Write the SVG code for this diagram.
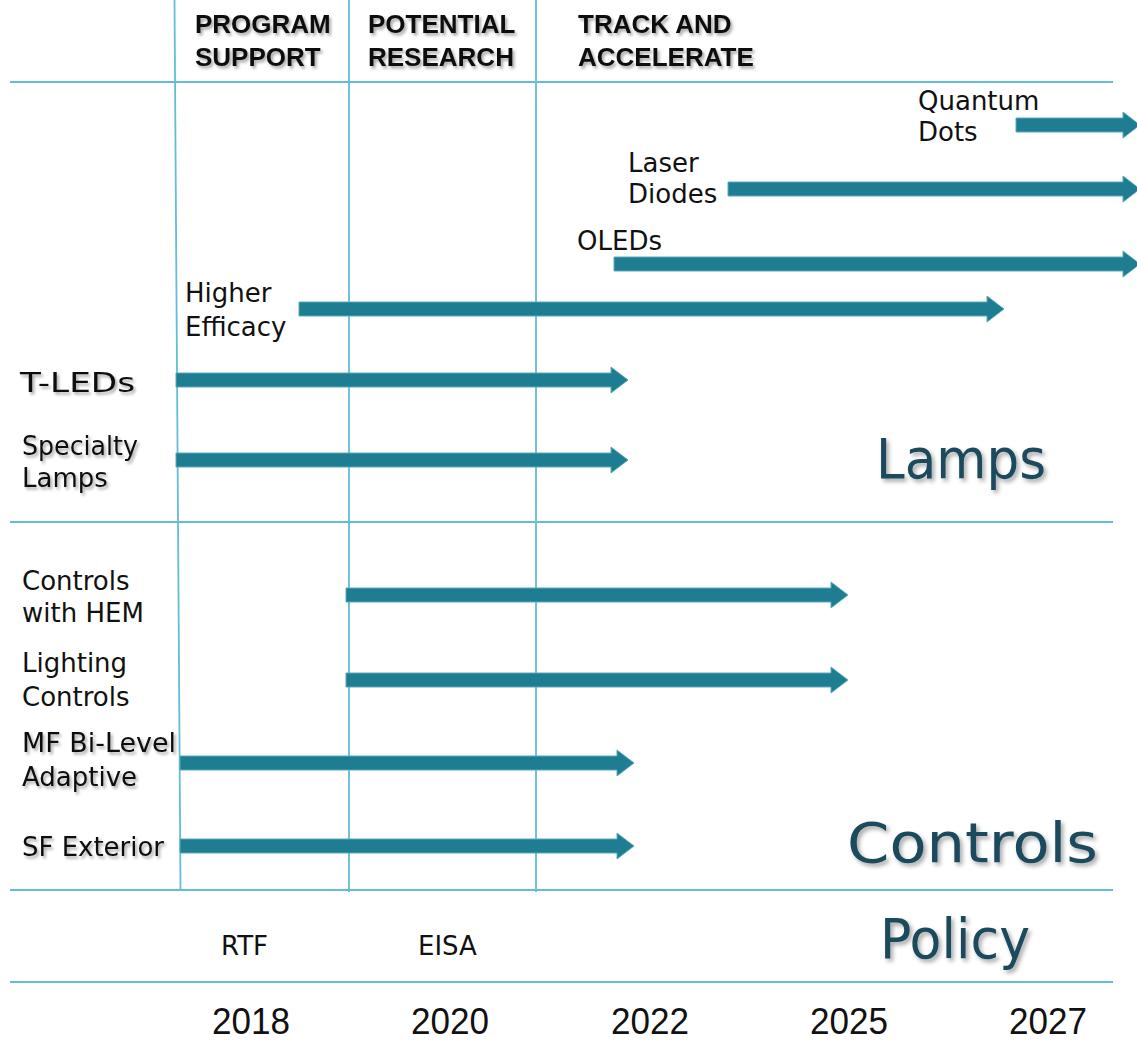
<svg xmlns="http://www.w3.org/2000/svg" width="1137" height="1041" viewBox="0 0 1137 1041">
  <defs>
    <filter id="shadow" x="-10%" y="-30%" width="130%" height="170%">
      <feDropShadow dx="2" dy="2.5" stdDeviation="1.4" flood-color="#000" flood-opacity="0.35"/>
    </filter>
    <filter id="bigshadow" x="-10%" y="-30%" width="130%" height="170%">
      <feDropShadow dx="2.5" dy="3" stdDeviation="2" flood-color="#000" flood-opacity="0.35"/>
    </filter>
  </defs>
  <style>
    .grid { stroke: #62bdd6; stroke-width: 1.8; fill: none; }
    .hdr { font-family: "Liberation Sans", Arial, sans-serif; font-weight: bold; font-size: 26px; fill: #111; }
    .lbl { font-family: "DejaVu Sans", "Noto Sans", sans-serif; font-size: 26px; fill: #111; }
    .big { font-family: "DejaVu Sans", "Noto Sans", sans-serif; font-size: 56px; fill: #1b4a5b; }
    .year { font-family: "Liberation Sans", Arial, sans-serif; font-size: 36px; fill: #111; }
    .arrow { fill: #1f7d92; stroke: #5aaabd; stroke-width: 1; }
  </style>

  <rect width="1137" height="1041" fill="#ffffff"/>

  <!-- grid lines -->
  <g id="grid">
    <line class="grid" x1="10" y1="82" x2="1113" y2="82"/>
    <line class="grid" x1="10" y1="522" x2="1113" y2="522"/>
    <line class="grid" x1="10" y1="890" x2="1113" y2="890"/>
    <line class="grid" x1="10" y1="982" x2="1113" y2="982"/>
    <line class="grid" x1="174.5" y1="0" x2="180.5" y2="890"/>
    <line class="grid" x1="349" y1="0" x2="349" y2="892"/>
    <line class="grid" x1="536" y1="0" x2="536" y2="892"/>
  </g>

  <!-- phase headers -->
  <g id="header-program" filter="url(#shadow)">
    <text class="hdr" x="195" y="33">PROGRAM</text>
    <text class="hdr" x="195" y="66">SUPPORT</text>
  </g>
  <g id="header-potential" filter="url(#shadow)">
    <text class="hdr" x="368" y="33">POTENTIAL</text>
    <text class="hdr" x="368" y="66">RESEARCH</text>
  </g>
  <g id="header-track" filter="url(#shadow)">
    <text class="hdr" x="578" y="33">TRACK AND</text>
    <text class="hdr" x="578" y="66">ACCELERATE</text>
  </g>

  <!-- technology nodes -->
  <g id="node-quantum-dots">
    <text class="lbl" x="918" y="110">Quantum</text>
    <text class="lbl" x="918" y="141">Dots</text>
  </g>
  <g id="node-laser-diodes">
    <text class="lbl" x="628" y="172">Laser</text>
    <text class="lbl" x="628" y="203">Diodes</text>
  </g>
  <g id="node-oleds">
    <text class="lbl" x="577" y="250">OLEDs</text>
  </g>
  <g id="node-higher-efficacy">
    <text class="lbl" x="185" y="302">Higher</text>
    <text class="lbl" x="185" y="336">Efficacy</text>
  </g>
  <g id="node-t-leds" filter="url(#shadow)">
    <text class="lbl" x="20" y="392" textLength="115" lengthAdjust="spacingAndGlyphs">T-LEDs</text>
  </g>
  <g id="node-specialty-lamps" filter="url(#shadow)">
    <text class="lbl" x="22" y="455" textLength="116" lengthAdjust="spacingAndGlyphs">Specialty</text>
    <text class="lbl" x="22" y="487">Lamps</text>
  </g>
  <g id="node-controls-hem">
    <text class="lbl" x="22" y="590">Controls</text>
    <text class="lbl" x="22" y="622">with HEM</text>
  </g>
  <g id="node-lighting-controls">
    <text class="lbl" x="22" y="672">Lighting</text>
    <text class="lbl" x="22" y="706">Controls</text>
  </g>
  <g id="node-mf-bilevel" filter="url(#shadow)">
    <text class="lbl" x="22" y="752" textLength="154" lengthAdjust="spacingAndGlyphs">MF Bi-Level</text>
    <text class="lbl" x="22" y="786">Adaptive</text>
  </g>
  <g id="node-sf-exterior" filter="url(#shadow)">
    <text class="lbl" x="22" y="856" textLength="142" lengthAdjust="spacingAndGlyphs">SF Exterior</text>
  </g>

  <!-- category labels -->
  <g id="cat-lamps" filter="url(#bigshadow)">
    <text class="big" x="876" y="478" textLength="170" lengthAdjust="spacingAndGlyphs">Lamps</text>
  </g>
  <g id="cat-controls" filter="url(#bigshadow)">
    <text class="big" x="847" y="862" textLength="251" lengthAdjust="spacingAndGlyphs">Controls</text>
  </g>
  <g id="cat-policy" filter="url(#bigshadow)">
    <text class="big" x="880" y="958" textLength="150" lengthAdjust="spacingAndGlyphs">Policy</text>
  </g>

  <!-- policy items -->
  <g id="policy-rtf">
    <text class="lbl" x="221" y="955">RTF</text>
  </g>
  <g id="policy-eisa">
    <text class="lbl" x="418" y="955">EISA</text>
  </g>

  <!-- timeline years -->
  <g id="years">
    <text class="year" x="251" y="1034" text-anchor="middle" textLength="78" lengthAdjust="spacingAndGlyphs">2018</text>
    <text class="year" x="450" y="1034" text-anchor="middle" textLength="78" lengthAdjust="spacingAndGlyphs">2020</text>
    <text class="year" x="650" y="1034" text-anchor="middle" textLength="78" lengthAdjust="spacingAndGlyphs">2022</text>
    <text class="year" x="849" y="1034" text-anchor="middle" textLength="78" lengthAdjust="spacingAndGlyphs">2025</text>
    <text class="year" x="1048" y="1034" text-anchor="middle" textLength="78" lengthAdjust="spacingAndGlyphs">2027</text>
  </g>

  <!-- timeline arrows: shaft half-height 7, head half-height 13, head length 17 -->
  <g id="connectors">
    <path class="arrow" d="M1016,118 H1123 V112 L1140,125 L1123,138 V132 H1016 Z"/>
    <path class="arrow" d="M728,182 H1123 V176 L1140,189 L1123,202 V196 H728 Z"/>
    <path class="arrow" d="M614,257 H1123 V251 L1140,264 L1123,277 V271 H614 Z"/>
    <path class="arrow" d="M299,302 H987 V296 L1004,309 L987,322 V316 H299 Z"/>
    <path class="arrow" d="M176,373 H611 V367 L628,380 L611,393 V387 H176 Z"/>
    <path class="arrow" d="M176,453 H611 V447 L628,460 L611,473 V467 H176 Z"/>
    <path class="arrow" d="M346,588 H831 V582 L848,595 L831,608 V602 H346 Z"/>
    <path class="arrow" d="M346,673 H831 V667 L848,680 L831,693 V687 H346 Z"/>
    <path class="arrow" d="M180,756 H617 V750 L634,763 L617,776 V770 H180 Z"/>
    <path class="arrow" d="M180,839 H617 V833 L634,846 L617,859 V853 H180 Z"/>
  </g>
</svg>
